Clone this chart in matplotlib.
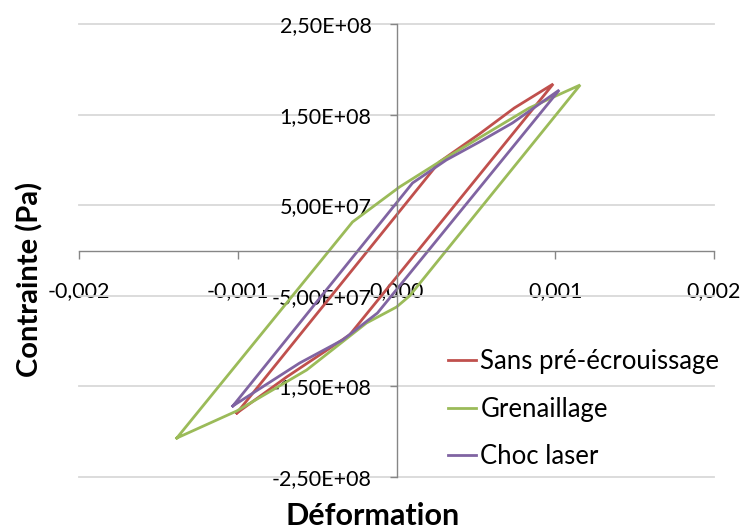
import matplotlib
matplotlib.use("Agg")
import matplotlib.pyplot as plt
from matplotlib.ticker import FixedLocator, FuncFormatter

plt.rcParams['font.family'] = ['Lato', 'DejaVu Sans']

# hysteresis loops (strain, stress in Pa)
sans_x = [-0.001006, 0.000270, 0.000522, 0.000742, 0.000987,
          -0.000296, -0.000692, -0.001006]
sans_y = [-1.794e8, 0.977e8, 1.286e8, 1.573e8, 1.838e8,
          -0.933e8, -1.396e8, -1.794e8]

gren_x = [-0.001384, -0.000277, 0.000019, 0.000289, 0.000836, 0.001157,
          0.000082, 0.000000, -0.000189, -0.000566, -0.001006, -0.001384]
gren_y = [-2.070e8, 0.315e8, 0.701e8, 0.999e8, 1.573e8, 1.827e8,
          -0.502e8, -0.624e8, -0.800e8, -1.319e8, -1.771e8, -2.070e8]

choc_x = [-0.001031, 0.000101, 0.000314, 0.000522, 0.000730, 0.001025,
          -0.000120, -0.000340, -0.000610, -0.001031]
choc_y = [-1.716e8, 0.745e8, 0.999e8, 1.198e8, 1.407e8, 1.771e8,
          -0.690e8, -0.988e8, -1.242e8, -1.716e8]

series = [("Sans pré-écrouissage", sans_x, sans_y, "#C0504D"),
          ("Grenaillage", gren_x, gren_y, "#9BBB59"),
          ("Choc laser", choc_x, choc_y, "#8064A2")]

x_ticks = [-0.002, -0.001, 0.0, 0.001, 0.002]
y_ticks = [-2.5e8, -1.5e8, -5e7, 5e7, 1.5e8, 2.5e8]

fig = plt.figure(figsize=(7.45, 5.32), dpi=100)
ax = fig.add_axes([79 / 745, 55 / 532, 635 / 745, 453 / 532])

for label, xs, ys, col in series:
    ax.plot(xs, ys, color=col, lw=2.0, label=label, solid_joinstyle="miter")

ax.set_xlim(-0.002, 0.002)
ax.set_ylim(-2.5e8, 2.5e8)

for side in ("top", "right"):
    ax.spines[side].set_visible(False)
for side in ("left", "bottom"):
    ax.spines[side].set_position(("data", 0))
    ax.spines[side].set_color("#868686")
    ax.spines[side].set_linewidth(1.0)

ax.xaxis.set_major_locator(FixedLocator(x_ticks))
ax.yaxis.set_major_locator(FixedLocator(y_ticks))
ax.xaxis.set_major_formatter(FuncFormatter(lambda v, p: f"{v:.3f}".replace(".", ",")))
ax.yaxis.set_major_formatter(FuncFormatter(lambda v, p: f"{v:.2E}".replace(".", ",")))
ax.tick_params(axis="x", direction="out", length=6, width=1.0, color="#868686",
               labelsize=15.5, pad=16)
ax.tick_params(axis="y", direction="out", length=5, width=1.0, color="#868686",
               labelsize=15.5, pad=13)

ax.yaxis.grid(True, color="#D9D9D9", lw=1.3)
ax.set_axisbelow(True)
for gl in ax.get_ygridlines():
    gl.set_clip_on(False)

fig.text(373 / 745, 1 - 516 / 532, "Déformation", ha="center", va="center",
         fontsize=22, fontweight="bold")
fig.text(30 / 745, 1 - 279 / 532, "Contrainte (Pa)", ha="center", va="center",
         rotation=90, fontsize=21, fontweight="bold")

ax.legend(loc="center left", bbox_to_anchor=(448 / 745, 1 - 409 / 532),
          bbox_transform=fig.transFigure, frameon=False, fontsize=18.5,
          handlelength=1.1, handletextpad=0.16, labelspacing=0.88,
          borderpad=0, borderaxespad=0)

fig.savefig("out.png", dpi=100)
